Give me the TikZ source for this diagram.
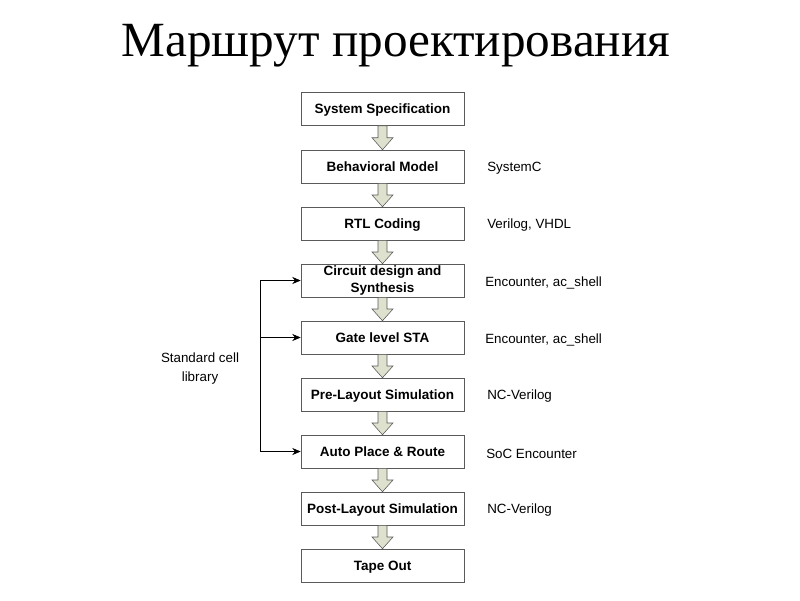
\documentclass[tikz,border=0pt]{standalone}
\usepackage{fontspec}
\setmainfont{Liberation Serif}
\newfontfamily\arial{Liberation Sans}
\usetikzlibrary{calc,arrows.meta}
\definecolor{arrowfill}{RGB}{222,225,206}
\definecolor{boxline}{RGB}{90,90,90}

\begin{document}
\begin{tikzpicture}[x=0.025cm,y=-0.025cm,
  basebox/.style={draw=boxline,fill=white,minimum width=4.075cm,minimum height=0.825cm,
    align=center,inner sep=1pt,font=\arial\bfseries\fontsize{9.6}{11.6}\selectfont},
  stepbox/.style={basebox,text height=0.72em,text depth=0.04em},
  tool/.style={anchor=west,inner sep=0pt,font=\arial\fontsize{9.5}{11}\selectfont},
  libarrow/.style={-{Stealth[length=6pt,width=5pt]},thin}]
\useasboundingbox (0,0) rectangle (800,600);
% title
\node (title) at (396,46) {\fontsize{35}{40}\selectfont Маршрут проектирования};
% flow boxes
\node[stepbox] (spec) at (382.5,109) {System Specification};
\node[stepbox] (beh) at (382.5,166.5) {Behavioral Model};
\node[stepbox] (rtl) at (382.5,223.5) {RTL Coding};
\node[basebox] (syn) at (382.5,280.5) {Circuit design and\\Synthesis};
\node[stepbox] (sta) at (382.5,337.5) {Gate level STA};
\node[stepbox] (pre) at (382.5,394.5) {Pre-Layout Simulation};
\node[stepbox] (pnr) at (382.5,451.5) {Auto Place \& Route};
\node[stepbox] (post) at (382.5,508.5) {Post-Layout Simulation};
\node[stepbox] (tape) at (382.5,565.5) {Tape Out};
% block arrows
\foreach \a/\b in {spec/beh,beh/rtl,rtl/syn,syn/sta,sta/pre,pre/pnr,pnr/post,post/tape}
  \draw[boxline,fill=arrowfill]
    ($(\a.south)+(-4.5,0)$) -- ($(\a.south)+(4.5,0)$) -- ($(\a.south)!0.5!(\b.north)+(4.5,0)$)
    -- ($(\a.south)!0.5!(\b.north)+(10.5,0)$) -- (\b.north)
    -- ($(\a.south)!0.5!(\b.north)+(-10.5,0)$) -- ($(\a.south)!0.5!(\b.north)+(-4.5,0)$) -- cycle;
% tools
\node[tool] (t2) at (487,168.5) {SystemC};
\node[tool] (t3) at (487,225.5) {Verilog, VHDL};
\node[tool] (t4) at (485,282.5) {Encounter, ac\_shell};
\node[tool] (t5) at (485,339.5) {Encounter, ac\_shell};
\node[tool] (t6) at (487,396.5) {NC-Verilog};
\node[tool] (t7) at (486,453.5) {SoC Encounter};
\node[tool] (t8) at (487,510.5) {NC-Verilog};
% library
\node[align=center,font=\arial\fontsize{9.5}{13.5}\selectfont] (lib) at (200,369) {Standard cell\\library};
\coordinate (bus) at (260,0);
\draw (bus |- syn.west) -- (bus |- pnr.west);
\draw[libarrow] (bus |- syn.west) -- (syn.west);
\draw[libarrow] (bus |- sta.west) -- (sta.west);
\draw[libarrow] (bus |- pnr.west) -- (pnr.west);
\end{tikzpicture}
\end{document}
